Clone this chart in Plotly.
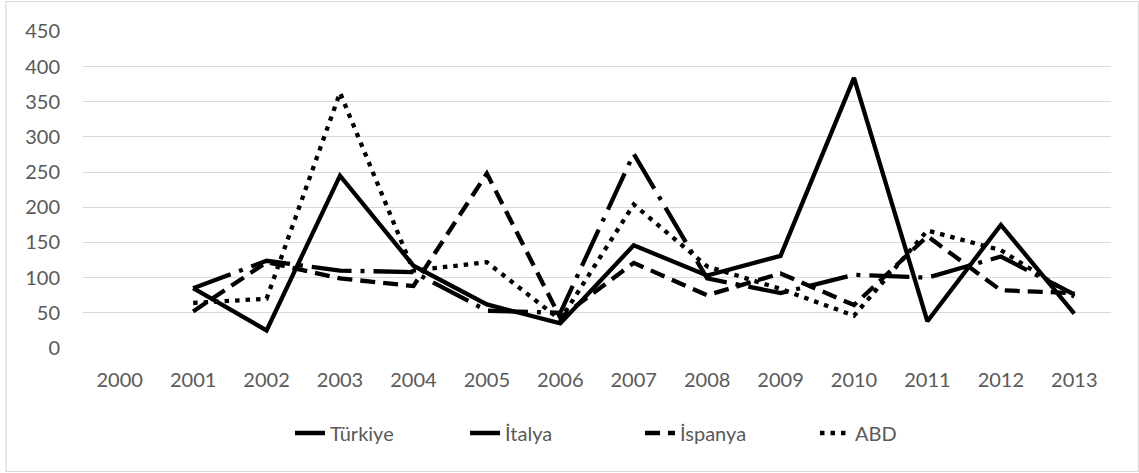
import plotly.graph_objects as go

years = ["2000", "2001", "2002", "2003", "2004", "2005", "2006",
         "2007", "2008", "2009", "2010", "2011", "2012", "2013"]

turkiye = [None, 85, 25, 245, 117, 62, 35, 146, 103, 131, 384, 38, 175, 49]
italya = [None, 85, 124, 110, 108, 53, 50, 276, 99, 78, 104, 100, 130, 76]
ispanya = [None, 52, 122, 99, 88, 248, 43, 121, 75, 106, 61, 159, 82, 78]
abd = [None, 64, 70, 363, 110, 122, 40, 204, 116, 84, 46, 167, 139, 73]

y_ticks = [0, 50, 100, 150, 200, 250, 300, 350, 400, 450]

series = [
    ("Türkiye", turkiye, "solid"),
    ("İtalya", italya, "40px,9px,4px,9px"),
    ("İspanya", ispanya, "15px,8px"),
    ("ABD", abd, "4.5px,6px"),
]

FONT = "Lato, 'Open Sans', sans-serif"
GREY = "#595959"

fig = go.Figure()
for name, vals, dash in series:
    fig.add_trace(go.Scatter(
        x=years, y=vals, name=name, mode="lines",
        line=dict(color="black", width=4.3, dash=dash),
        connectgaps=False,
    ))

W, H = 1139, 473
L, R, T, B = 83, 28, 31, 125
pw, ph = W - L - R, H - T - B

def px_x(p):
    return (p - L) / pw

def px_y(p):
    return (H - B - p) / ph

fig.update_layout(
    width=W, height=H,
    margin=dict(l=L, r=R, t=T, b=B, pad=0),
    paper_bgcolor="white", plot_bgcolor="white",
    font=dict(family=FONT, size=20, color=GREY),
    showlegend=True,
    legend=dict(
        orientation="h",
        x=px_x(640), xanchor="center",
        y=px_y(433), yanchor="middle",
        font=dict(family=FONT, size=20, color=GREY),
        entrywidth=130,
        bgcolor="rgba(0,0,0,0)",
    ),
    xaxis=dict(
        type="category",
        categoryorder="array", categoryarray=years,
        range=[-0.5, 13.5],
        showgrid=False, zeroline=False, showline=False,
        ticks="", ticklabelstandoff=18,
        tickfont=dict(family=FONT, size=20, color=GREY),
    ),
    yaxis=dict(
        range=[0, 450.6],
        tickvals=y_ticks,
        showgrid=True, gridcolor="#d9d9d9", gridwidth=1.3,
        zeroline=False, showline=False,
        ticks="", ticklabelstandoff=22,
        tickfont=dict(family=FONT, size=20, color=GREY),
    ),
    shapes=[dict(
        type="rect", xref="paper", yref="paper",
        x0=px_x(6), x1=px_x(1138.5), y0=px_y(471.5), y1=px_y(1.5),
        line=dict(color="#d9d9d9", width=1.2), fillcolor="rgba(0,0,0,0)",
        layer="below",
    )],
)

fig.write_html(
    "out.html",
    config={"displayModeBar": False},
    post_script="document.body.style.margin='0';document.body.style.padding='0';",
)
